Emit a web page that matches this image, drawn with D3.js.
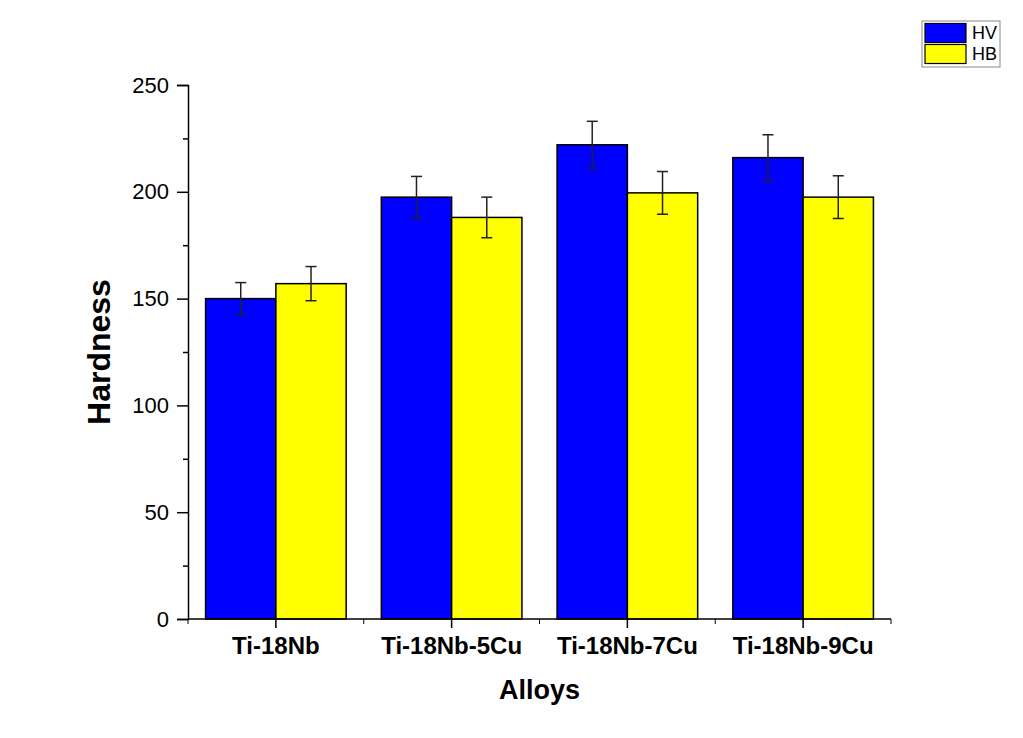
<!DOCTYPE html>
<html>
<head>
<meta charset="utf-8">
<script src="https://cdn.jsdelivr.net/npm/d3@7"></script>
<style>
  body { margin: 0; background: #fff; }
  svg { font-family: "Liberation Sans", Arial, sans-serif; }
</style>
</head>
<body>
<svg id="chart" width="1023" height="738"></svg>
<script>
// data
var alloys = ["Ti-18Nb", "Ti-18Nb-5Cu", "Ti-18Nb-7Cu", "Ti-18Nb-9Cu"];
var series = ["HV", "HB"];
var hvVals = [150, 197.5, 222, 216];
var hvErr = [7.5, 9.7, 11, 10.7];
var hbVals = [157, 188, 199.5, 197.5];
var hbErr = [8, 9.5, 10, 10];
var yTicks = [0, 50, 100, 150, 200, 250];
var yMinor = [25, 75, 125, 175, 225];
var colors = {HV: "#0000ff", HB: "#ffff00"};

var rows = [];
alloys.forEach(function(a, i) {
	rows.push({alloy: a, key: "HV", v: hvVals[i], e: hvErr[i]});
	rows.push({alloy: a, key: "HB", v: hbVals[i], e: hbErr[i]});
});

var svg = d3.select("#chart");
var pLeft = 188, pRight = 891, pTop = 85, pBottom = 619;

var y = d3.scaleLinear().domain([0, 250]).range([pBottom, pTop]);
var x0 = d3.scaleBand().domain(alloys).range([pLeft, pRight])
	.paddingInner(0.2).paddingOuter(0.1);
var x1 = d3.scaleBand().domain(series).range([0, x0.bandwidth()]);

// bars
svg.append("g").selectAll("rect")
	.data(rows)
	.enter()
	.append("rect")
	.attr("x", function(d) { return x0(d.alloy) + x1(d.key); })
	.attr("y", function(d) { return y(d.v); })
	.attr("width", x1.bandwidth())
	.attr("height", function(d) { return y(0) - y(d.v); })
	.attr("fill", function(d) { return colors[d.key]; })
	.attr("stroke", "#000")
	.attr("stroke-width", 1.5);

// error bars
var eb = svg.append("g").selectAll("g")
	.data(rows)
	.enter()
	.append("g")
	.attr("transform", function(d) { return "translate(" + (x0(d.alloy) + x1(d.key) + x1.bandwidth()/2) + ",0)"; })
	.attr("stroke", "#222")
	.attr("stroke-width", 1.5);
eb.append("line")
	.attr("x1", 0).attr("x2", 0)
	.attr("y1", function(d) { return y(d.v + d.e); })
	.attr("y2", function(d) { return y(d.v - d.e); });
eb.append("line")
	.attr("x1", -5.5).attr("x2", 5.5)
	.attr("y1", function(d) { return y(d.v + d.e); })
	.attr("y2", function(d) { return y(d.v + d.e); });
eb.append("line")
	.attr("x1", -5.5).attr("x2", 5.5)
	.attr("y1", function(d) { return y(d.v - d.e); })
	.attr("y2", function(d) { return y(d.v - d.e); });

// y axis
var yAxis = svg.append("g")
	.attr("transform", "translate(" + pLeft + ",0)")
	.call(d3.axisLeft(y).tickValues(yTicks).tickSize(11).tickPadding(8));
svg.append("g")
	.attr("transform", "translate(" + pLeft + ",0)")
	.call(d3.axisLeft(y).tickValues(yMinor).tickSize(5).tickFormat(""))
	.select(".domain").remove();
yAxis.selectAll("text").attr("font-size", "22px").attr("fill", "#000")
	.attr("font-family", "Liberation Sans, Arial, sans-serif");

// x axis: major ticks at centres, minor at boundaries
var xAxis = svg.append("g")
	.attr("transform", "translate(0," + pBottom + ")")
	.call(d3.axisBottom(x0).tickSize(9).tickPadding(9).tickSizeOuter(0));
xAxis.select(".domain").attr("d", "M" + pLeft + ",0H" + pRight);
xAxis.selectAll("text").attr("font-size", "24px").attr("font-weight", "bold")
	.attr("fill", "#000").attr("font-family", "Liberation Sans, Arial, sans-serif");
var bounds = alloys.map(function(a) { return x0(a) - x0.step()*x0.paddingInner()/2; });
bounds.push(pRight);
svg.append("g").selectAll("line")
	.data(bounds)
	.enter()
	.append("line")
	.attr("x1", function(d) { return d; }).attr("x2", function(d) { return d; })
	.attr("y1", pBottom).attr("y2", pBottom + 5)
	.attr("stroke", "#000");

svg.selectAll(".domain, .tick line").attr("stroke", "#000").attr("stroke-width", 1.5);

// axis titles
svg.append("text")
	.attr("x", (pLeft + pRight)/2)
	.attr("y", 699)
	.attr("text-anchor", "middle")
	.attr("font-size", "27px")
	.attr("font-weight", "bold")
	.text("Alloys");
svg.append("text")
	.attr("transform", "translate(110," + ((pTop + pBottom)/2) + ") rotate(-90)")
	.attr("text-anchor", "middle")
	.attr("font-size", "32px")
	.attr("font-weight", "bold")
	.text("Hardness");

// legend
var lg = svg.append("g").attr("transform", "translate(922,21)");
lg.append("rect")
	.attr("width", 78).attr("height", 46)
	.attr("fill", "#fff").attr("stroke", "#888").attr("stroke-width", 1);
lg.selectAll("rect.sw")
	.data(series)
	.enter()
	.append("rect")
	.attr("class", "sw")
	.attr("x", 3).attr("y", function(d, i) { return 2.5 + i*21; })
	.attr("width", 41).attr("height", 19)
	.attr("fill", function(d) { return colors[d]; })
	.attr("stroke", "#000").attr("stroke-width", 1.2);
lg.selectAll("text")
	.data(series)
	.enter()
	.append("text")
	.attr("x", 50).attr("y", function(d, i) { return 18 + i*21; })
	.attr("font-size", "18px")
	.text(function(d) { return d; });
</script>
</body>
</html>
